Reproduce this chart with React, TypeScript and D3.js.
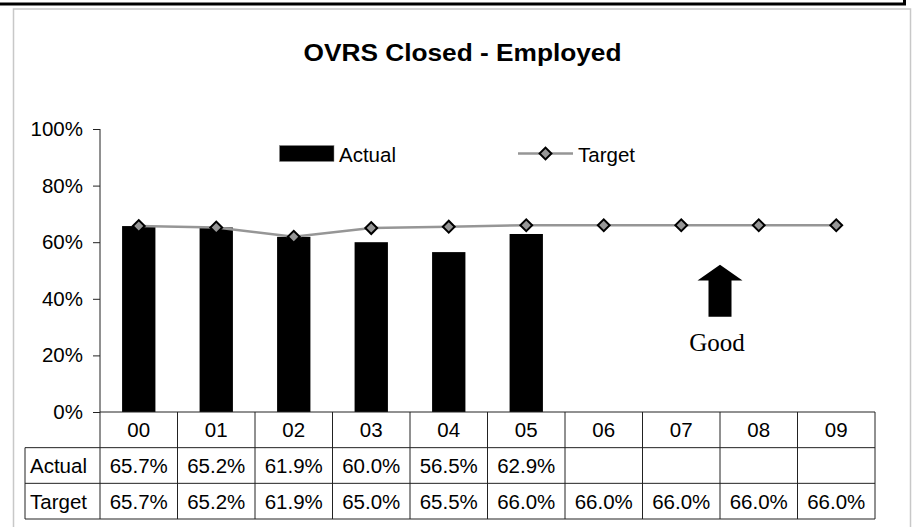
import { useEffect, useRef } from "react";
import * as d3 from "d3";

const years = ["00", "01", "02", "03", "04", "05", "06", "07", "08", "09"];
const actual = [0.657, 0.652, 0.619, 0.6, 0.565, 0.629];
const target = [0.657, 0.652, 0.619, 0.65, 0.655, 0.66, 0.66, 0.66, 0.66, 0.66];
const rowNames = ["Actual", "Target"];
const yTicks = [0, 0.2, 0.4, 0.6, 0.8, 1];

const W = 912;
const H = 527;
const FONT = "Arial, 'Liberation Sans', sans-serif";

export default function App() {
  const axisRef = useRef<SVGGElement>(null);

  // columns of the data table / categories
  const x = d3.scaleBand().domain(years).range([100, 875]).padding(0);
  // bars sit inside each column
  const xBar = d3.scaleBand().domain(years).range([100, 875]).paddingInner(0.57).paddingOuter(0.285);
  const y = d3.scaleLinear().domain([0, 1]).range([412, 129]);
  const rows = d3.scaleBand().domain(["head", ...rowNames]).range([412, 519]);

  useEffect(() => {
    if (!axisRef.current) return;
    const g = d3.select(axisRef.current);
    g.selectAll("*").remove();
    g.call(
      d3.axisLeft(y).tickValues(yTicks).tickSize(7).tickPadding(10).tickFormat(d3.format(".0%"))
    );
    g.select(".domain").remove();
    g.selectAll(".tick line").attr("stroke", "#222");
    g.selectAll(".tick text")
      .attr("fill", "#000")
      .style("font-family", FONT)
      .style("font-size", "20.5px");
  }, []);

  const line = d3
    .line<number>()
    .x((_, i) => x(years[i])! + x.bandwidth() / 2)
    .y((d) => y(d));

  const diamond = d3.symbol().type(d3.symbolSquare).size(70)();

  const colCenter = (k: string) => x(k)! + x.bandwidth() / 2;
  const rowMid = (r: string) => rows(r)! + rows.bandwidth() / 2;
  const pct = d3.format(".1%");

  const arrowX = x("08")!;
  const tipY = y(0.52);
  const headY = y(0.465);
  const baseY = y(0.337);

  return (
    <svg width={W} height={H} style={{ position: "absolute", left: 0, top: 0, background: "#fff" }}>
      {/* outer frames */}
      <rect x={-10} y={-10} width={914.5} height={14} fill="none" stroke="#000" strokeWidth={3} />
      <rect x={13.5} y={9} width={897} height={530} fill="none" stroke="#c8c8c8" strokeWidth={1.5} />

      <text x={462.5} y={61} textAnchor="middle" fontFamily={FONT} fontWeight="bold" fontSize={23}
        textLength={318} lengthAdjust="spacingAndGlyphs">
        OVRS Closed - Employed
      </text>

      {/* bars */}
      {actual.map((v, i) => (
        <rect key={years[i]} x={xBar(years[i])} y={y(v)} width={xBar.bandwidth()} height={y(0) - y(v)} fill="#000" />
      ))}

      {/* target line */}
      <path d={line(target) ?? ""} fill="none" stroke="#969696" strokeWidth={2.5} />
      {target.map((v, i) => (
        <path key={years[i]} d={diamond ?? ""} transform={`translate(${colCenter(years[i])},${y(v)}) rotate(45)`}
          fill="#969696" stroke="#000" strokeWidth={2} />
      ))}

      {/* y axis */}
      <g ref={axisRef} transform="translate(100,0)" />
      <line x1={100} x2={100} y1={y(1)} y2={519} stroke="#222" />
      <line x1={100} x2={875} y1={y(0)} y2={y(0)} stroke="#222" />

      {/* data table */}
      <g stroke="#222" strokeWidth={1}>
        {years.map((k) => (
          <line key={k} x1={x(k)! + x.bandwidth()} x2={x(k)! + x.bandwidth()} y1={412} y2={519} />
        ))}
        <line x1={25} x2={25} y1={rows("Actual")!} y2={519} />
        {rowNames.map((r) => (
          <line key={r} x1={25} x2={875} y1={rows(r)!} y2={rows(r)!} />
        ))}
        <line x1={25} x2={875} y1={519} y2={519} />
      </g>
      <g fontFamily={FONT} fontSize={20.5} fill="#000">
        {years.map((k) => (
          <text key={k} x={colCenter(k)} y={rowMid("head") + 7.5} textAnchor="middle">{k}</text>
        ))}
        {rowNames.map((r) => (
          <text key={r} x={30} y={rowMid(r) + 7.5}>{r}</text>
        ))}
        {actual.map((v, i) => (
          <text key={"a" + i} x={colCenter(years[i])} y={rowMid("Actual") + 7.5} textAnchor="middle">{pct(v)}</text>
        ))}
        {target.map((v, i) => (
          <text key={"t" + i} x={colCenter(years[i])} y={rowMid("Target") + 7.5} textAnchor="middle">{pct(v)}</text>
        ))}
      </g>

      {/* legend */}
      <rect x={279.5} y={145.5} width={54.5} height={16} fill="#000" stroke="#888" strokeWidth={0.5} />
      <text x={339} y={161.5} fontFamily={FONT} fontSize={20.5}>Actual</text>
      <line x1={518} x2={573} y1={153.5} y2={153.5} stroke="#969696" strokeWidth={2.5} />
      <path d={diamond ?? ""} transform="translate(545.5,153.5) rotate(45)" fill="#969696" stroke="#000" strokeWidth={2} />
      <text x={578} y={161.5} fontFamily={FONT} fontSize={20.5}>Target</text>

      {/* "Good" arrow */}
      <path
        d={`M${arrowX},${tipY} L${arrowX + 22.5},${headY} L${arrowX + 11.5},${headY} L${arrowX + 11.5},${baseY}
           L${arrowX - 11.5},${baseY} L${arrowX - 11.5},${headY} L${arrowX - 22.5},${headY} Z`}
        fill="#000"
      />
      <text x={arrowX - 3} y={351} textAnchor="middle" fontFamily="'Liberation Serif', 'Times New Roman', serif" fontSize={25}>
        Good
      </text>
    </svg>
  );
}
